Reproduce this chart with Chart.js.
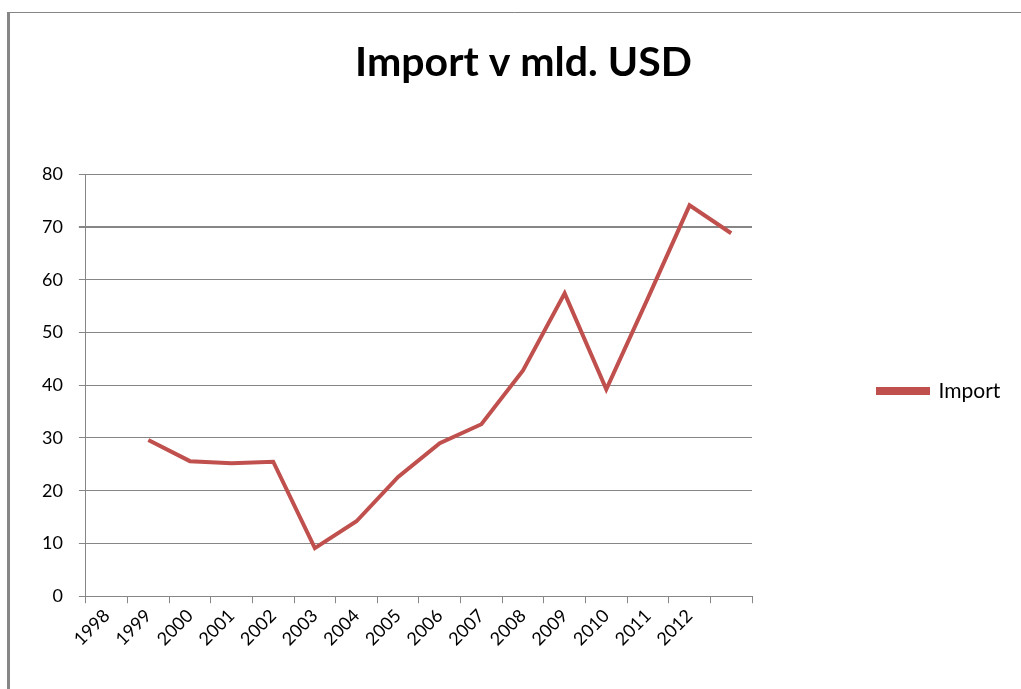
<!DOCTYPE html>
<html>
<head>
<meta charset="utf-8">
<script src="https://cdn.jsdelivr.net/npm/chart.js@4.4.1/dist/chart.umd.min.js"></script>
<style>
  html, body { margin: 0; padding: 0; background: #fff; }
  #wrap { width: 1021px; height: 689px; }
</style>
</head>
<body>
<div id="wrap"><canvas id="myChart" width="1021" height="689"></canvas></div>
<script>
// categories (last slot is empty, the series is shifted one slot right)
const years = ['1998', '1999', '2000', '2001', '2002', '2003', '2004', '2005',
               '2006', '2007', '2008', '2009', '2010', '2011', '2012', ''];
// import in bn USD
const importValues = [null, 29.6, 25.6, 25.2, 25.5, 9.1, 14.2, 22.6,
                      29.0, 32.6, 42.8, 57.4, 39.2, 56.5, 74.1, 68.8];
const yTicks = [0, 10, 20, 30, 40, 50, 60, 70, 80];

const gridGray = '#868686';
const lineRed = '#C0504D';
const legendWidth = 269; // room kept right of the plot for the legend

// outer frame of the chart object (only top and left edges are visible)
const framePlugin = {
    id: 'frame',
    afterInit(chart) {
        // fixed legend width so the label is not clipped
        const lg = chart.legend;
        if (lg) {
            const fit = lg.fit.bind(lg);
            lg.fit = function () {
                fit();
                this.width = legendWidth;
            };
        }
    },
    beforeDraw(chart) {
        const ctx = chart.ctx;
        ctx.save();
        ctx.fillStyle = '#fff';
        ctx.fillRect(0, 0, chart.width, chart.height);
        ctx.strokeStyle = gridGray;
        ctx.lineWidth = 1;
        ctx.beginPath();
        ctx.moveTo(8.5, 689);
        ctx.lineTo(8.5, 12.5);
        ctx.lineTo(1021, 12.5);
        ctx.stroke();
        ctx.lineWidth = 3;
        ctx.beginPath();
        ctx.moveTo(8.5, 689);
        ctx.lineTo(8.5, 12);
        ctx.stroke();
        ctx.restore();
    }
};

new Chart("myChart", {
    type: 'line',
    data: {
        labels: years,
        datasets: [{
            label: 'Import',
            data: importValues,
            borderColor: lineRed,
            backgroundColor: lineRed,
            borderWidth: 4,
            pointRadius: 0,
            tension: 0,
            fill: false
        }]
    },
    options: {
        responsive: false,
        animation: false,
        layout: {
            padding: { left: 26, right: 0, top: 0, bottom: 37 }
        },
        plugins: {
            title: {
                display: true,
                text: 'Import v mld. USD',
                color: '#000',
                font: { family: 'Lato', size: 41, weight: 'bold' },
                padding: { top: 38, bottom: 87 }
            },
            legend: {
                position: 'right',
                // empty legend title only pushes the entry down to the middle of the plot
                title: {
                    display: true,
                    text: '',
                    font: { size: 10 },
                    padding: { top: 118, bottom: 0 }
                },
                labels: {
                    boxWidth: 50,
                    boxHeight: 4,
                    padding: 126,
                    color: '#000',
                    font: { family: 'Lato', size: 21 }
                }
            },
            tooltip: { enabled: false }
        },
        scales: {
            x: {
                offset: true,
                border: { color: gridGray, width: 1 },
                grid: {
                    offset: true,
                    drawOnChartArea: false,
                    drawTicks: true,
                    tickLength: 7,
                    color: gridGray
                },
                ticks: {
                    autoSkip: false,
                    maxRotation: 45,
                    minRotation: 45,
                    color: '#000',
                    padding: 2,
                    font: { family: 'Lato', size: 18 }
                }
            },
            y: {
                min: 0,
                max: 80,
                afterBuildTicks(scale) {
                    scale.ticks = yTicks.map(v => ({ value: v }));
                },
                border: { color: gridGray, width: 1 },
                grid: {
                    color: gridGray,
                    lineWidth: ctx => (ctx.tick && ctx.tick.value === 70 ? 2 : 1),
                    tickLength: 7
                },
                ticks: {
                    color: '#000',
                    padding: 16,
                    font: { family: 'Lato', size: 18 }
                }
            }
        }
    },
    plugins: [framePlugin]
});
</script>
</body>
</html>
